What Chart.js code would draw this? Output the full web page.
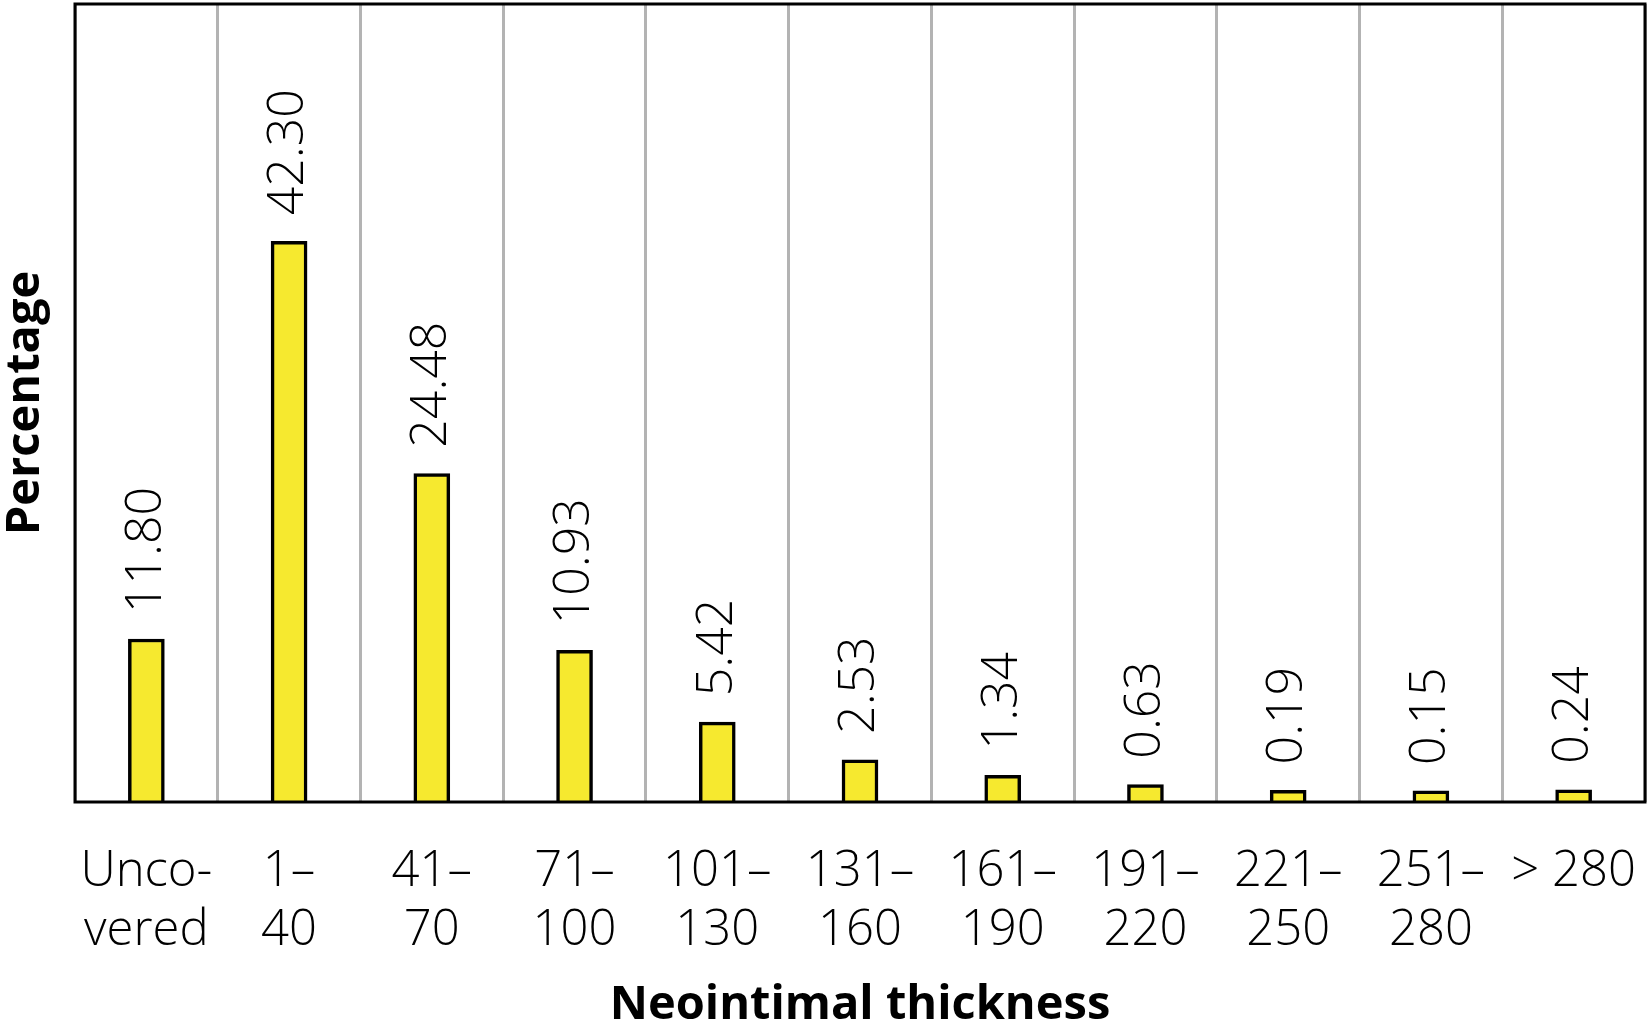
<!DOCTYPE html>
<html>
<head>
<meta charset="utf-8">
<script src="https://cdn.jsdelivr.net/npm/chart.js@4"></script>
<style>
html,body{margin:0;padding:0;background:#fff;overflow:hidden;}
#c{display:block;}
</style>
</head>
<body>
<canvas id="c" width="1648" height="1023"></canvas>
<script>
const categories = [
  ["Unco-", "vered"],
  ["1\u2013", "40"],
  ["41\u2013", "70"],
  ["71\u2013", "100"],
  ["101\u2013", "130"],
  ["131\u2013", "160"],
  ["161\u2013", "190"],
  ["191\u2013", "220"],
  ["221\u2013", "250"],
  ["251\u2013", "280"],
  "> 280"
];
const percentages = [11.80, 42.30, 24.48, 10.93, 5.42, 2.53, 1.34, 0.63, 0.19, 0.15, 0.24];
const valueLabels = ["11.80", "42.30", "24.48", "10.93", "5.42", "2.53", "1.34", "0.63", "0.19", "0.15", "0.24"];
const xTitle = "Neointimal thickness";
const yTitle = "Percentage";

const FONT = '"Open Sans", "Noto Sans", sans-serif';

const framePlugin = {
  id: 'frame',
  afterDraw(chart) {
    const {ctx, chartArea: a} = chart;
    ctx.save();
    ctx.strokeStyle = '#000';
    ctx.lineWidth = 3;
    ctx.strokeRect(a.left, a.top, a.right - a.left, a.bottom - a.top);
    ctx.restore();
  }
};

const labelPlugin = {
  id: 'valueLabels',
  afterDatasetsDraw(chart) {
    const ctx = chart.ctx;
    const meta = chart.getDatasetMeta(0);
    meta.data.forEach((bar, i) => {
      ctx.save();
      ctx.translate(bar.x, bar.y - 26);
      ctx.rotate(-Math.PI / 2);
      ctx.font = '300 50px ' + FONT;
      ctx.fillStyle = '#000';
      ctx.textAlign = 'left';
      ctx.textBaseline = 'middle';
      ctx.fillText(valueLabels[i], 0, 0);
      ctx.restore();
    });
  }
};

new Chart(document.getElementById('c'), {
  type: 'bar',
  data: {
    labels: categories,
    datasets: [{
      data: percentages,
      backgroundColor: '#f6e92f',
      borderColor: '#000',
      borderWidth: 3.5,
      borderSkipped: 'start',
      barThickness: 36,
      base: -0.7
    }]
  },
  options: {
    responsive: false,
    animation: false,
    devicePixelRatio: 1,
    layout: { padding: { top: 4, right: 3, left: 0, bottom: 0 } },
    plugins: { legend: { display: false }, tooltip: { enabled: false } },
    scales: {
      x: {
        grid: { display: true, offset: true, color: '#b3b3b3', lineWidth: 3, drawTicks: false },
        border: { display: false },
        ticks: {
          color: '#000', font: { family: FONT, size: 49, weight: 300, lineHeight: 1.2 },
          padding: 41, maxRotation: 0, minRotation: 0, autoSkip: false
        },
        title: {
          display: true, text: xTitle, color: '#000',
          font: { family: FONT, size: 47, weight: 'bold', lineHeight: 0.75 },
          padding: { top: 0, bottom: 0 }
        },
        afterFit(scale) {
          scale.paddingLeft = 0;
          scale.paddingRight = 0;
          scale.height = 221;
        }
      },
      y: {
        min: -0.7,
        max: 60.5,
        grid: { display: false, drawTicks: false },
        border: { display: false },
        ticks: { display: false },
        title: {
          display: true, text: yTitle, color: '#000',
          font: { family: FONT, size: 47, weight: 'bold', lineHeight: 1.1 },
          padding: { top: 0, bottom: 23 }
        },
        afterFit(scale) {
          scale.width = 75;
        }
      }
    }
  },
  plugins: [framePlugin, labelPlugin]
});
</script>
</body>
</html>
